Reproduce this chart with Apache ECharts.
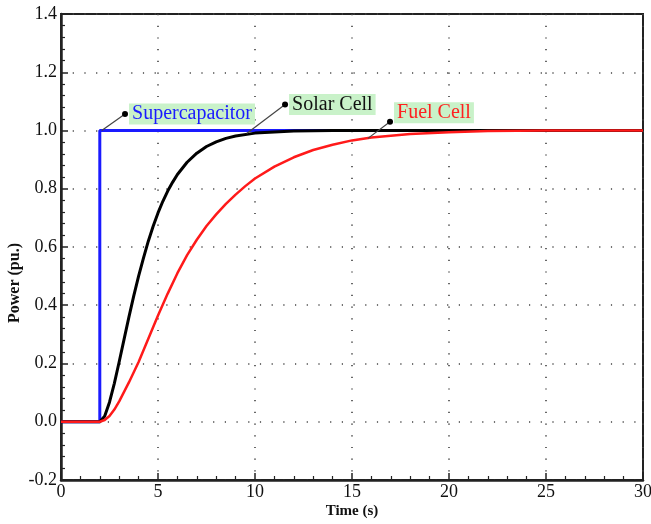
<!DOCTYPE html>
<html>
<head>
<meta charset="utf-8">
<script src="https://cdn.jsdelivr.net/npm/echarts@6/dist/echarts.min.js"></script>
<style>html,body{margin:0;padding:0;background:#fff;}#chart{width:651px;height:524px;}</style>
</head>
<body>
<div id="chart"></div>
<script>
// ---- data ----
const timeSuper = [0, 2, 2, 30];
const powerSuper = [0, 0, 1, 1];

const timeSolar = [0, 2, 2.25, 2.5, 2.75, 3, 3.25, 3.5, 3.75, 4, 4.25, 4.5, 4.75, 5, 5.25, 5.5, 5.75, 6, 6.5, 7, 7.5, 8, 8.5, 9, 10, 11, 12, 14, 16, 30];
const powerSolar = [0, 0, 0.019, 0.067, 0.132, 0.206, 0.283, 0.359, 0.432, 0.5, 0.562, 0.62, 0.671, 0.717, 0.757, 0.792, 0.822, 0.849, 0.891, 0.922, 0.945, 0.961, 0.973, 0.981, 0.991, 0.995, 0.998, 1, 1, 1];

const timeFuel = [0, 2, 2.25, 2.5, 2.75, 3, 3.5, 4, 4.5, 5, 5.5, 6, 6.5, 7, 7.5, 8, 8.5, 9, 9.5, 10, 11, 12, 13, 14, 15, 16, 18, 20, 22, 25, 30];
const powerFuel = [0, 0, 0.006, 0.02, 0.042, 0.07, 0.135, 0.205, 0.285, 0.365, 0.44, 0.51, 0.572, 0.625, 0.672, 0.712, 0.748, 0.78, 0.809, 0.835, 0.876, 0.908, 0.933, 0.951, 0.966, 0.976, 0.988, 0.994, 0.998, 1, 1];

const xTicks = [0, 5, 10, 15, 20, 25, 30];
const yTicks = [-0.2, 0, 0.2, 0.4, 0.6, 0.8, 1.0, 1.2, 1.4];

// annotation anchors (data coords): label dot and arrow tip
const annSuper = { text: 'Supercapacitor', dot: [3.3, 1.057], tip: [2.1, 1.0], color: '#1a1aff' };
const annSolar = { text: 'Solar Cell', dot: [11.55, 1.089], tip: [9.57, 0.99], color: '#111' };
const annFuel = { text: 'Fuel Cell', dot: [16.96, 1.03], tip: [15.82, 0.973], color: '#ff2020' };

const FONT = '"Liberation Serif", "Times New Roman", serif';

function pairs(xs, ys) { return xs.map((x, i) => [x, ys[i]]); }

function annotate(a, offsetY) {
  return {
    markLine: {
      silent: true,
      animation: false,
      symbol: ['none', 'arrow'],
      symbolSize: [0, 7],
      lineStyle: { color: '#444', width: 1.2, type: 'solid' },
      label: { show: false },
      data: [[{ coord: a.dot }, { coord: a.tip }]]
    },
    markPoint: {
      silent: true,
      animation: false,
      symbol: 'circle',
      symbolSize: 6,
      itemStyle: { color: '#000' },
      label: {
        show: true,
        position: 'right',
        distance: 1,
        offset: [0, offsetY],
        formatter: a.text,
        color: a.color,
        fontFamily: FONT,
        fontSize: 20,
        backgroundColor: '#c9f2c9',
        padding: [1, 3, 0, 3]
      },
      data: [{ coord: a.dot }]
    }
  };
}

const chart = echarts.init(document.getElementById('chart'), null, { renderer: 'canvas' });

const option = {
  animation: false,
  backgroundColor: '#fff',
  grid: {
    left: 61, right: 8, top: 14, bottom: 44,
    containLabel: false, outerBoundsMode: 'none',
    show: true, borderColor: '#222', borderWidth: 2, backgroundColor: 'transparent'
  },
  xAxis: {
    type: 'value',
    min: xTicks[0], max: xTicks[xTicks.length - 1], interval: 5,
    name: 'Time (s)', nameLocation: 'middle', nameGap: 24, nameMoveOverlap: false,
    nameTextStyle: { fontFamily: FONT, fontSize: 15, fontWeight: 'bold', color: '#111' },
    axisLine: { show: true, onZero: false, lineStyle: { color: '#222', width: 2.5 } },
    axisTick: { show: true, inside: true, length: 7, lineStyle: { color: '#222', width: 1.5 } },
    minorTick: { show: true, splitNumber: 5, length: 4, lineStyle: { color: '#222', width: 1.2 } },
    axisLabel: { fontFamily: FONT, fontSize: 18, color: '#111', margin: 3 },
    splitLine: { show: true, lineStyle: { color: '#444', width: 1.6, type: [1.2, 10.5] } }
  },
  yAxis: {
    type: 'value',
    min: yTicks[0], max: yTicks[yTicks.length - 1], interval: 0.2,
    name: 'Power (pu.)', nameLocation: 'middle', nameGap: 38, nameMoveOverlap: false,
    nameTextStyle: { fontFamily: FONT, fontSize: 16, fontWeight: 'bold', color: '#111', padding: [0, 72, 0, 0] },
    axisLine: { show: true, onZero: false, lineStyle: { color: '#222', width: 2.5 } },
    axisTick: { show: true, inside: true, length: 7, lineStyle: { color: '#222', width: 1.5 } },
    minorTick: { show: true, splitNumber: 5, length: 4, lineStyle: { color: '#222', width: 1.2 } },
    axisLabel: { fontFamily: FONT, fontSize: 18, color: '#111', margin: 4,
      formatter: v => v.toFixed(1) },
    splitLine: { show: true, lineStyle: { color: '#444', width: 1.6, type: [1.2, 10.5] } }
  },
  series: [
    Object.assign({
      name: 'Supercapacitor', type: 'line', showSymbol: false, symbol: 'none',
      data: pairs(timeSuper, powerSuper),
      lineStyle: { color: '#1a1aff', width: 3 }, itemStyle: { color: '#1a1aff' }, z: 2
    }, annotate(annSuper, 0)),
    Object.assign({
      name: 'Solar Cell', type: 'line', showSymbol: false, symbol: 'none',
      data: pairs(timeSolar, powerSolar),
      lineStyle: { color: '#000', width: 3, join: 'round' }, itemStyle: { color: '#000' }, z: 3
    }, annotate(annSolar, 0)),
    Object.assign({
      name: 'Fuel Cell', type: 'line', showSymbol: false, symbol: 'none',
      data: pairs(timeFuel, powerFuel),
      lineStyle: { color: '#ff1a1a', width: 2.5, join: 'round' }, itemStyle: { color: '#ff1a1a' }, z: 4
    }, annotate(annFuel, -9))
  ]
};
chart.setOption(option);
</script>
</body>
</html>
